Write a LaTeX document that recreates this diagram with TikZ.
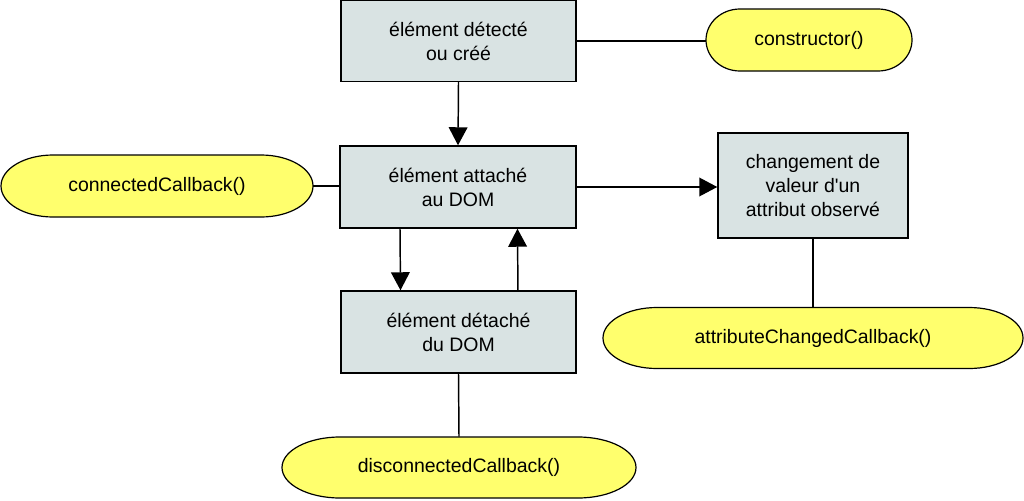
\documentclass[tikz,border=0pt]{standalone}
\usepackage{fontspec}
\setmainfont{Liberation Sans}[Ligatures=TeXOff]
\usetikzlibrary{arrows.meta,calc}
\definecolor{boxfill}{RGB}{217,227,227}
\definecolor{cbfill}{RGB}{255,255,109}
\newcommand\cbStadium[7]{%
  \pgfmathsetmacro\cbXl{#2-#4}\pgfmathsetmacro\cbXr{#2+#4}%
  \pgfmathsetmacro\cbAl{#2-#4+#6}\pgfmathsetmacro\cbAr{#2+#4-#6}%
  \pgfmathsetmacro\cbYt{#3-#5}\pgfmathsetmacro\cbYb{#3+#5}%
  \pgfmathsetmacro\cbKx{0.5523*#6}\pgfmathsetmacro\cbKy{0.5523*#5}%
  \pgfmathsetmacro\cbAlk{\cbAl-\cbKx}\pgfmathsetmacro\cbArk{\cbAr+\cbKx}%
  \pgfmathsetmacro\cbYtk{#3-\cbKy}\pgfmathsetmacro\cbYbk{#3+\cbKy}%
  \draw[cbshape] (\cbAl,\cbYt) -- (\cbAr,\cbYt)
     .. controls (\cbArk,\cbYt) and (\cbXr,\cbYtk) .. (\cbXr,#3)
     .. controls (\cbXr,\cbYbk) and (\cbArk,\cbYb) .. (\cbAr,\cbYb)
     -- (\cbAl,\cbYb)
     .. controls (\cbAlk,\cbYb) and (\cbXl,\cbYbk) .. (\cbXl,#3)
     .. controls (\cbXl,\cbYtk) and (\cbAlk,\cbYt) .. cycle;
  \node[cbtext, minimum width=#4*1.5pt, minimum height=#5*1.5pt] (#1) at (#2,#3) {#7};
}
\begin{document}
\begin{tikzpicture}[x=0.75pt,y=-0.75pt,
  statebox/.style={draw=black, line width=1.1pt, fill=boxfill, inner sep=0pt,
    align=center, font=\fontsize{14.6pt}{18pt}\selectfont},
  cbshape/.style={draw=black, line width=0.9pt, fill=cbfill},
  cbtext/.style={inner sep=0pt, font=\fontsize{14.6pt}{18pt}\selectfont},
  link/.style={draw=black, line width=1.1pt},
  arr/.style={link, -{Triangle[width=14pt,length=13.5pt]}}]
\useasboundingbox (0,0) rectangle (1024,500);
\node[statebox, minimum width=176.25pt, minimum height=60.75pt] (b1) at (458.5,41) {élément détecté\\ou créé};
\node[statebox, minimum width=177pt, minimum height=61.5pt] (b2) at (458,187) {élément attaché\\au DOM};
\node[statebox, minimum width=176.25pt, minimum height=61.5pt] (b3) at (458.5,332) {élément détaché\\du DOM};
\node[statebox, minimum width=142.5pt, minimum height=78.75pt] (b4) at (813,185.5) {changement de\\valeur d'un\\attribut observé};
\cbStadium{ctor}{809}{40}{103}{31}{34}{constructor()}
\cbStadium{ccb}{157}{186}{156}{31}{52}{connectedCallback()}
\cbStadium{acb}{813}{338}{210}{30.5}{54}{attributeChangedCallback()}
\cbStadium{dcb}{459}{467.5}{177}{30.5}{58}{disconnectedCallback()}
\draw[arr] (b1.south) -- (b2.north);
\draw[arr] ([xshift=-43.5pt]b2.south) -- ([xshift=-43.5pt]b3.north);
\draw[arr] ([xshift=44.6pt]b3.north) -- ([xshift=44.6pt]b2.south);
\draw[arr] (b2.east) -- (b2.east -| b4.west);
\draw[link] (b1.east) -- (b1.east -| ctor.west);
\draw[link] (ccb.east) -- (ccb.east -| b2.west);
\draw[link] (b4.south) -- (acb.north);
\draw[link] (b3.south) -- (dcb.north);
\end{tikzpicture}
\end{document}
